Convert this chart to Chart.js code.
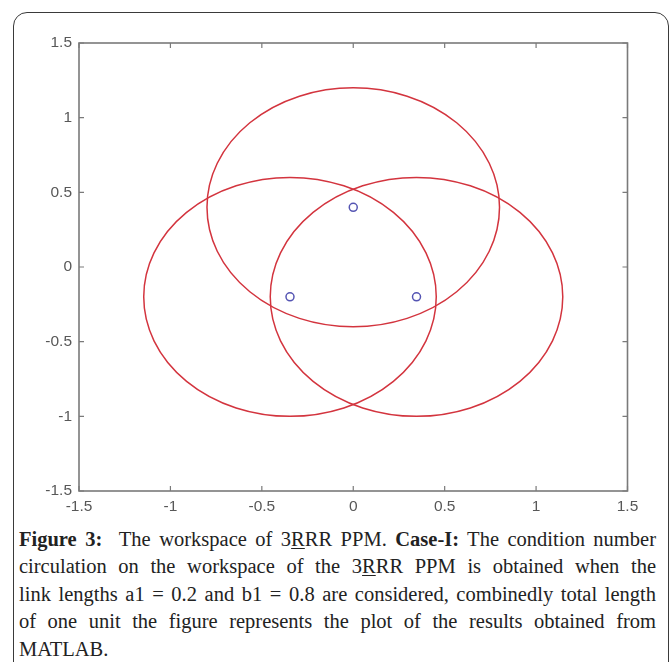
<!DOCTYPE html>
<html>
<head>
<meta charset="utf-8">
<script src="https://cdn.jsdelivr.net/npm/chart.js@4"></script>
<style>
  html, body { margin: 0; padding: 0; background: #fff; }
  body { width: 671px; height: 662px; position: relative; overflow: hidden; }
  .frame {
    position: absolute; left: 13px; top: 12px; width: 656px; height: 700px;
    border: 1px solid #3a3a3a; border-radius: 14px; box-sizing: border-box;
  }
  .plot { position: absolute; left: 0; top: 0; width: 671px; height: 525px; }
  .caption {
    position: absolute; left: 19px; top: 526px; width: 637px;
    font-family: "Liberation Serif", "DejaVu Serif", serif;
    font-size: 20.5px; line-height: 27.4px; color: #222;
  }
  .caption div { text-align: justify; text-align-last: justify; white-space: nowrap; }
  .caption div.last { text-align-last: left; }
  .caption u { text-decoration-thickness: 1px; text-underline-offset: 2px; }
</style>
</head>
<body>
<div class="frame"></div>
<div class="plot"><canvas id="myChart"></canvas></div>
<div class="caption">
  <div><b>Figure 3:</b>&nbsp; The workspace of 3<u>R</u>RR PPM. <b>Case-I:</b> The condition number</div>
  <div>circulation on the workspace of the 3<u>R</u>RR PPM is obtained when the</div>
  <div>link lengths a1 = 0.2 and b1 = 0.8 are considered, combinedly total length</div>
  <div>of one unit the figure represents the plot of the results obtained from</div>
  <div class="last">MATLAB.</div>
</div>
<script>
// base points (circle centres) and workspace circle radius
const centerX = [0, -0.346, 0.346];
const centerY = [0.4, -0.2, -0.2];
const radius = [0.8, 0.8, 0.8];

const xTicks = [-1.5, -1, -0.5, 0, 0.5, 1, 1.5];
const yTicks = [-1.5, -1, -0.5, 0, 0.5, 1, 1.5];

const axisGray = '#7a7a7a';

// draws the workspace circles through the scales, then the MATLAB style box
const workspacePlugin = {
    id: 'workspace',
    beforeDatasetsDraw(chart) {
        const ctx = chart.ctx;
        const x = chart.scales.x, y = chart.scales.y;
        ctx.save();
        ctx.strokeStyle = '#d3343e';
        ctx.lineWidth = 1.5;
        for (let i = 0; i < centerX.length; i++) {
            const cx = x.getPixelForValue(centerX[i]);
            const cy = y.getPixelForValue(centerY[i]);
            const rx = Math.abs(x.getPixelForValue(centerX[i] + radius[i]) - cx);
            const ry = Math.abs(y.getPixelForValue(centerY[i] + radius[i]) - cy);
            ctx.beginPath();
            ctx.ellipse(cx, cy, rx, ry, 0, 0, Math.PI * 2);
            ctx.stroke();
        }
        ctx.restore();
    },
    afterDraw(chart) {
        const ctx = chart.ctx;
        const a = chart.chartArea;
        const x = chart.scales.x, y = chart.scales.y;
        const len = 5;
        ctx.save();
        ctx.strokeStyle = axisGray;
        ctx.lineWidth = 1.6;
        ctx.strokeRect(a.left, a.top, a.right - a.left, a.bottom - a.top);
        ctx.lineWidth = 1.2;
        ctx.beginPath();
        xTicks.forEach(v => {
            const px = x.getPixelForValue(v);
            ctx.moveTo(px, a.bottom); ctx.lineTo(px, a.bottom - len);
            ctx.moveTo(px, a.top); ctx.lineTo(px, a.top + len);
        });
        yTicks.forEach(v => {
            const py = y.getPixelForValue(v);
            ctx.moveTo(a.left, py); ctx.lineTo(a.left + len, py);
            ctx.moveTo(a.right, py); ctx.lineTo(a.right - len, py);
        });
        ctx.stroke();
        ctx.restore();
    }
};

const tickFont = { family: '"Liberation Sans", Arial, sans-serif', size: 15.5 };

const data = {
    datasets: [{
        label: 'base points',
        data: centerX.map((v, i) => ({ x: v, y: centerY[i] })),
        showLine: false,
        pointStyle: 'circle',
        pointRadius: 4,
        pointHoverRadius: 4,
        pointBorderWidth: 1.5,
        pointBorderColor: '#5555b3',
        pointBackgroundColor: 'transparent'
    }]
};

const config = {
    type: 'scatter',
    data: data,
    options: {
        responsive: true,
        maintainAspectRatio: false,
        animation: false,
        layout: { padding: { left: 0, top: 43, right: 43.5, bottom: 4 } },
        plugins: {
            legend: { display: false },
            tooltip: { enabled: false }
        },
        scales: {
            x: {
                type: 'linear',
                min: -1.5,
                max: 1.5,
                border: { display: false },
                grid: { display: false, drawTicks: false },
                afterBuildTicks: (s) => { s.ticks = xTicks.map(v => ({ value: v })); },
                afterFit: (s) => { s.height = 30; },
                ticks: {
                    autoSkip: false,
                    maxRotation: 0,
                    padding: 6,
                    color: '#585858',
                    font: tickFont,
                    callback: (v) => String(v)
                }
            },
            y: {
                type: 'linear',
                min: -1.5,
                max: 1.5,
                border: { display: false },
                grid: { display: false, drawTicks: false },
                afterBuildTicks: (s) => { s.ticks = yTicks.map(v => ({ value: v })); },
                afterFit: (s) => { s.width = 79; },
                ticks: {
                    autoSkip: false,
                    padding: 7,
                    color: '#585858',
                    font: tickFont,
                    callback: (v) => String(v)
                }
            }
        }
    },
    plugins: [workspacePlugin]
};

const myChart = new Chart(document.getElementById('myChart'), config);
</script>
</body>
</html>
